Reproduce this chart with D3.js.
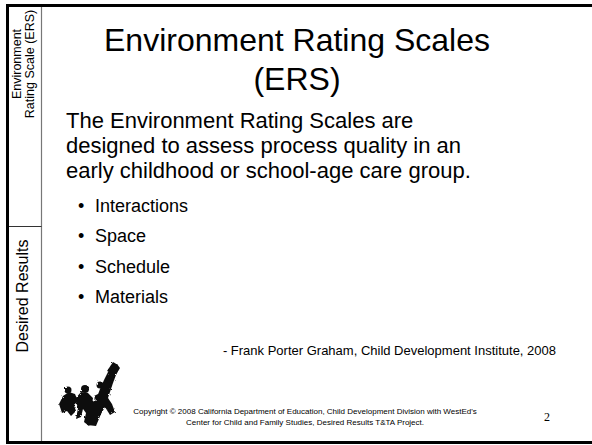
<!DOCTYPE html>
<html>
<head>
<meta charset="utf-8">
<script src="https://cdn.jsdelivr.net/npm/d3@7"></script>
<style>
  html, body { margin: 0; padding: 0; background: #fff; }
  svg { display: block; font-family: "Liberation Sans", Arial, sans-serif; }
</style>
</head>
<body>
<script>
(function(){

//slide text
var titleLines = ["Environment Rating Scales", "(ERS)"];
var bodyLines = ["The Environment Rating Scales are",
                 "designed to assess process quality in an",
                 "early childhood or school-age care group."];
var bullets = ["Interactions", "Space", "Schedule", "Materials"];
var sideTop = ["Environment", "Rating Scale (ERS)"];
var sideBottom = "Desired Results";
var quote = "- Frank Porter Graham, Child Development Institute, 2008";
var footer = ["Copyright \u00A9 2008 California Department of Education, Child Development Division with WestEd's",
              "Center for Child and Family Studies, Desired Results T&TA Project."];
var pageNo = "2";

var width = 592, height = 445;

var svg = d3.select("body").append("svg")
    .attr("width", width)
    .attr("height", height);

//rough edge filter for the logo
var defs = svg.append("defs");
var filt = defs.append("filter").attr("id", "rough")
    .attr("x", "-20%").attr("y", "-20%").attr("width", "140%").attr("height", "140%");
filt.append("feTurbulence")
    .attr("type", "fractalNoise").attr("baseFrequency", 0.7)
    .attr("numOctaves", 2).attr("seed", 5).attr("result", "noise");
filt.append("feDisplacementMap")
    .attr("in", "SourceGraphic").attr("in2", "noise")
    .attr("scale", 2.5);

//frame
svg.append("rect")
    .attr("x", 7.5).attr("y", 5.5)
    .attr("width", 620).attr("height", 437)
    .attr("fill", "none")
    .attr("stroke", "#000")
    .attr("stroke-width", 3);

//sidebar lines
svg.append("line")
    .attr("x1", 41.5).attr("x2", 41.5).attr("y1", 7).attr("y2", 441)
    .attr("stroke", "#777").attr("stroke-width", 1.2);
svg.append("line")
    .attr("x1", 9).attr("x2", 41.5).attr("y1", 226.5).attr("y2", 226.5)
    .attr("stroke", "#333").attr("stroke-width", 1);

//sidebar text (rotated)
svg.selectAll(".sideTop")
    .data(sideTop)
    .enter()
    .append("text")
    .attr("class", "sideTop")
    .attr("transform", function(d, i){
        return "translate(" + (21 + i * 13) + ",64) rotate(-90)";
    })
    .attr("text-anchor", "middle")
    .attr("font-size", 12.5)
    .text(function(d){ return d; });

svg.append("text")
    .attr("transform", "translate(28,296) rotate(-90)")
    .attr("text-anchor", "middle")
    .attr("font-size", 16)
    .text(sideBottom);

//title
svg.selectAll(".title")
    .data(titleLines)
    .enter()
    .append("text")
    .attr("class", "title")
    .attr("x", 297)
    .attr("y", function(d, i){ return 51 + i * 39; })
    .attr("text-anchor", "middle")
    .attr("font-size", 32)
    .text(function(d){ return d; });

//body text
svg.selectAll(".body")
    .data(bodyLines)
    .enter()
    .append("text")
    .attr("class", "body")
    .attr("x", 66)
    .attr("y", function(d, i){ return 128 + i * 25; })
    .attr("font-size", 22)
    .text(function(d){ return d; });

//bullets
var bulletY = d3.scalePoint()
    .domain(bullets)
    .range([212, 303]);

var items = svg.selectAll(".bullet")
    .data(bullets)
    .enter()
    .append("g")
    .attr("class", "bullet")
    .attr("transform", function(d){ return "translate(0," + bulletY(d) + ")"; });

items.append("text")
    .attr("x", 78)
    .attr("font-size", 18)
    .text("\u2022");
items.append("text")
    .attr("x", 95)
    .attr("font-size", 18)
    .text(function(d){ return d; });

//quote
svg.append("text")
    .attr("x", 556)
    .attr("y", 355)
    .attr("text-anchor", "end")
    .attr("font-size", 13)
    .text(quote);

//footer
svg.selectAll(".footer")
    .data(footer)
    .enter()
    .append("text")
    .attr("class", "footer")
    .attr("x", 305)
    .attr("y", function(d, i){ return 414 + i * 11; })
    .attr("text-anchor", "middle")
    .attr("font-size", 8)
    .text(function(d){ return d; });

svg.append("text")
    .attr("x", 547)
    .attr("y", 421)
    .attr("text-anchor", "middle")
    .attr("font-family", "Liberation Serif, serif")
    .attr("font-size", 12)
    .text(pageNo);

//logo: running children silhouette
var logoShapes = [
    "M59,404 L63,396 L69,392 L75,394 L78,401 L74,405 L76,411 L71,416 L67,411 L62,413 Z",
    "M75,399 L81,392 L88,393 L93,398 L92,404 L96,410 L94,419 L89,426 L84,422 L86,413 L83,409 L81,417 L76,419 L78,408 Z",
    "M87,425 L92,412 L96,400 L100,389 L104,380 L108,372 L112,366 L117,364 L120,368 L116,375 L113,383 L110,392 L108,398 L112,404 L115,412 L110,415 L105,407 L101,414 L96,426 Z",
    "M94,396 L104,391 L107,397 L97,403 Z",
    "M107,371 L113,362 L118,365 L112,373 Z",
    "M84,404 L98,400 L100,406 L88,410 Z"
];
var logoHeads = [[68, 390, 3.5], [85, 389, 4], [100, 385, 3.5]];

var logo = svg.append("g")
    .attr("fill", "#111")
    .attr("filter", "url(#rough)");
logo.selectAll("path")
    .data(logoShapes)
    .enter()
    .append("path")
    .attr("d", function(d){ return d; });
logo.selectAll("circle")
    .data(logoHeads)
    .enter()
    .append("circle")
    .attr("cx", function(d){ return d[0]; })
    .attr("cy", function(d){ return d[1]; })
    .attr("r", function(d){ return d[2]; });

})();
</script>
</body>
</html>
